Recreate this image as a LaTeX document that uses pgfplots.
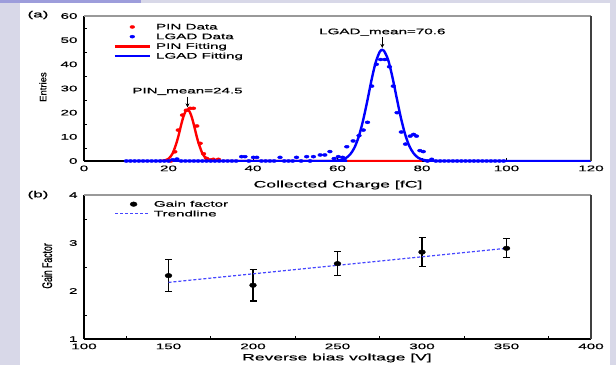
\documentclass[border=0pt]{standalone}
\usepackage{fontspec}
\setmainfont{Liberation Sans}[FakeStretch=1.9, FakeBold=0.5]
\newfontfamily\plainsans{Liberation Sans}[FakeBold=0.6]
\newfontfamily\condsans{Liberation Sans}[FakeStretch=0.62, FakeBold=0.6]
\usepackage{pgfplots}
\pgfplotsset{compat=1.18}
\usetikzlibrary{arrows.meta}
\definecolor{bglav}{RGB}{216,216,232}
\definecolor{bgpurple}{RGB}{157,157,219}
\definecolor{pinred}{RGB}{255,0,0}
\definecolor{lgadblue}{RGB}{0,0,255}
\definecolor{trendblue}{RGB}{70,70,255}
\newcommand\tickfont{\fontsize{8}{9}\selectfont}
\pgfplotsset{
 markleg/.style={legend image code/.code={\path[draw=none,fill=none] (0pt,0pt) -- (35pt,0pt);\draw[##1] plot coordinates {(17.5pt,0pt)};}},
 markleg b/.style={legend image code/.code={\path[draw=none,fill=none] (0pt,0pt) -- (33pt,0pt);\draw[##1] plot coordinates {(18.4pt,0pt)};}},
 lineleg/.style={legend image code/.code={\draw[##1] (0pt,0pt) -- (35pt,0pt);}},
 lineleg short/.style={legend image code/.code={\draw[##1] (0pt,0pt) -- (33pt,0pt);}},
 myaxis/.style={
  scale only axis, width=507pt,
  axis lines=left, axis line style={-, line width=1.3pt, black},
  tick style={black, line width=0.9pt},
  tick align=inside, major tick length=3pt, minor tick length=3pt,
  /pgf/number format/assume math mode=true,
  ticklabel style={font=\tickfont},
  xticklabel style={yshift=-1pt},
  yticklabel style={xshift=-3pt},
  legend cell align=left,
  legend style={draw=none, fill=none, inner sep=0pt, font=\tickfont,
    nodes={inner sep=0pt, text height=6pt, text depth=1pt},
    row sep=2.7pt, column sep=5pt, anchor=north west},
  after end axis/.code={
    \draw[line width=1.2pt, black!40] (rel axis cs:0,1) -- (rel axis cs:1,1);
    \draw[line width=1.2pt, black!75] (rel axis cs:1,0) -- (rel axis cs:1,1);
  },
 }
}
\begin{document}
\begin{tikzpicture}
\path[use as bounding box] (0,0) rectangle (616pt,365pt);
\fill[bglav] (0,0) rectangle (616pt,365pt);
\fill[white] (19.5pt,0) rectangle (610pt,361.5pt);
\fill[bgpurple] (0,361.5pt) rectangle (141pt,365pt);

% ---------------- (a) ----------------
\begin{axis}[myaxis, name=top, at={(84pt,204pt)}, anchor=south west, height=145pt,
  xmin=0, xmax=120, ymin=0, ymax=60,
  xtick={0,20,...,120}, ytick={0,10,...,60}, minor ytick={5,15,...,55},
  major y tick style={draw=none},
  xlabel={Collected Charge [fC]},
  x label style={font=\fontsize{9.3}{11}\selectfont, at={(axis description cs:0.501,-0.166)}, anchor=center},
  ylabel={Entries},
  y label style={font=\plainsans\fontsize{9.5}{10}\selectfont, at={(axis description cs:-0.081,0.51)}, anchor=center},
  legend style={at={(rel axis cs:0.058,0.95)}},
]
\addplot[only marks, mark=*, mark size=1.5pt, pinred, mark options={xscale=1.6}, markleg]
 coordinates {(20.5,0) (21.5,3.8) (22.3,12.8) (23.3,19) (24.2,21) (25.1,21.8) (25.9,21.8) (26.7,14.5) (27.5,7.3) (28.3,3) (29,1.1) (29.8,0.5) (30.6,0.7) (31.8,0.7)};
\addlegendentry{PIN Data}
\addplot[only marks, mark=*, mark size=1.5pt, lgadblue, mark options={xscale=1.6}, markleg]
 coordinates {(10,0) (11,0) (12,0) (13,0) (14,0) (15,0) (16,0) (17,0) (18,0) (19,0) (20,0) (21,0.5) (22,0.8) (23,0) (24,0) (25,0) (26,0) (27,0) (28,0) (29,0) (30,0) (31,0) (32,0) (33,0) (34,0) (35,0) (36,0)
 (37.3,1.8) (38.1,1.8) (39,0) (40.1,1.5) (40.9,1.5) (42,0) (43,0) (44,0) (45,0) (46.4,1.5) (47.4,0) (48.4,0) (49.4,0) (50.3,1.5) (51.4,0) (52.7,1.8) (53.5,0) (54.3,1.8) (55.9,2.5) (57,2.5) (58.2,3.9) (59.2,1.0) (60.2,1.8) (61.2,1.5)
 (62.2,5.9) (63.7,8.3) (65.1,10.5) (66.1,12.8) (67.1,16) (68.1,31) (69.2,40) (70.2,42) (71.2,42) (72.3,39) (73.2,31) (74.1,20) (75.1,12) (76.1,7) (77.2,10.3) (78.0,11) (78.7,10.3) (79.5,4.3) (80.3,3.9) (81.3,0) (82.3,0.7) (83.3,0) (84.3,0) (85.3,0) (86.3,0) (87.3,0) (88.3,0) (89.3,0) (90.3,0) (91.3,0) (92.3,0) (93.3,0) (94.3,0) (95.3,0) (96.3,0) (97.3,0) (98.3,0) (99.3,0)};
\addlegendentry{LGAD Data}
\addplot[pinred, line width=2.4pt, smooth, lineleg]
 coordinates {(18,0.03) (19,0.2) (20,0.93) (21,3.2) (22,8.1) (22.5,11.4) (23,15.0) (23.5,18.2) (24,20.4) (24.5,21.2) (25,20.4) (25.5,18.2) (26,15.0) (26.5,11.4) (27,8.1) (28,3.2) (29,0.93) (30,0.2) (31,0.03) (32,0) (80,0)};
\addlegendentry{PIN Fitting}
\addplot[lgadblue, line width=2.4pt, smooth, lineleg]
 coordinates {(10,0) (59,0) (60,0.19) (61,0.51) (62,1.24) (63,2.74) (64,5.48) (65,9.95) (66,16.4) (67,24.4) (68,33.1) (69,40.6) (70,45.2) (70.6,46) (71,45.6) (72,41.8) (73,34.7) (74,26.2) (75,17.9) (76,11.1) (77,6.2) (78,3.2) (79,1.47) (80,0.62) (81,0.23) (82,0.08) (83,0) (120,0)};
\addlegendentry{LGAD Fitting}
\node[font=\tickfont] at (axis cs:24.5,28.8) {PIN\_mean=24.5};
\draw[-{Stealth[length=4pt,width=4pt]}, line width=0.7pt] (axis cs:24.5,26.6) -- (axis cs:24.5,22.2);
\node[font=\tickfont] at (axis cs:70.6,53.3) {LGAD\_mean=70.6};
\draw[-{Stealth[length=4pt,width=4pt]}, line width=0.7pt] (axis cs:70.6,51.3) -- (axis cs:70.6,46.8);
\end{axis}
\node[font=\fontsize{9}{10}\selectfont] at ([xshift=-46pt,yshift=1pt]top.north west) {(a)};

% ---------------- (b) ----------------
\begin{axis}[myaxis, name=bot, at={(84pt,26pt)}, anchor=south west, height=144pt,
  xmin=100, xmax=400, ymin=1, ymax=4,
  xtick={100,150,...,400}, ytick={1,2,3,4},
  minor x tick num=1, minor y tick num=1,
  major tick style={draw=none},
  xlabel={Reverse bias voltage [V]},
  x label style={font=\fontsize{9.2}{11}\selectfont, at={(axis description cs:0.499,-0.132)}, anchor=center},
  ylabel={Gain Factor},
  y label style={font=\condsans\fontsize{14}{15}\selectfont, at={(axis description cs:-0.073,0.507)}, anchor=center},
  legend style={at={(rel axis cs:0.06,0.962)}},
]
\addplot[black, only marks, mark=*, mark size=2.3pt, mark options={xscale=1.5}, markleg b,
  error bars/.cd, y dir=both, y explicit,
  error bar style={line width=1.3pt, black},
  error mark options={rotate=90, mark size=3.5pt, line width=1.2pt, black}]
 coordinates {(150,2.32) +- (0,0.33) (200,2.12) +- (0,0.33) (250,2.57) +- (0,0.25) (300,2.81) +- (0,0.30) (350,2.89) +- (0,0.20)};
\addlegendentry{Gain factor}
\addplot[trendblue, line width=1.2pt, dash pattern=on 3pt off 2pt, lineleg short]
 coordinates {(150,2.18) (350,2.89)};
\addlegendentry{Trendline}
\end{axis}
\node[font=\fontsize{9}{10}\selectfont] at ([xshift=-46pt]bot.north west) {(b)};
\end{tikzpicture}
\end{document}
